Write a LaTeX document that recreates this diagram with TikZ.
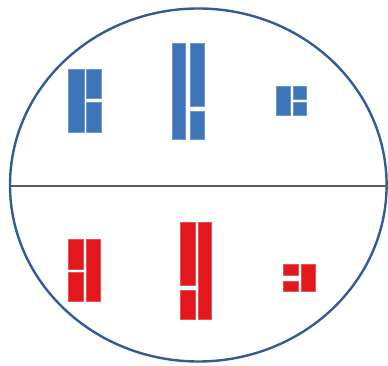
\documentclass[tikz,border=0pt]{standalone}
\usepackage{xcolor}
\usepackage{tikz}
\usetikzlibrary{positioning, calc}

\definecolor{barblue}{RGB}{62,116,184}
\definecolor{barred}{RGB}{226,24,28}
\definecolor{rimblue}{RGB}{50,92,150}

\begin{document}
\begin{tikzpicture}[
    x=1pt, y=-1pt,
    rim/.style={draw=rimblue, line width=2.4pt},
    divider/.style={draw=black!65, line width=2pt},
    bluebar/.style={fill=barblue, draw=barblue!75!white, line width=0.6pt},
    redbar/.style={fill=barred, draw=barred!75!white, line width=0.6pt}
]
\useasboundingbox (0,0) rectangle (388,366);

% Omtrek en scheidslijn
\draw[rim] (198.3,185) ellipse [x radius=188.3, y radius=176.5];
\draw[divider] (10,185.7) -- (388,185.7);

% Blauwe staven (boven)
\path[bluebar] (68.3,69) rectangle (84,132);
\path[bluebar] (86.7,69) rectangle (101.7,98);
\path[bluebar] (86.7,102.7) rectangle (101.7,132);

\path[bluebar] (172.3,43.3) rectangle (185.7,139);
\path[bluebar] (190,43.3) rectangle (204.3,106.7);
\path[bluebar] (190,111) rectangle (204.3,139);

\path[bluebar] (276,86) rectangle (290,115);
\path[bluebar] (293.3,86) rectangle (306,99.3);
\path[bluebar] (293.3,102) rectangle (306,115);

% Rode staven (onder)
\path[redbar] (68.3,239.3) rectangle (83.3,269.3);
\path[redbar] (68.3,272.7) rectangle (83.3,301.7);
\path[redbar] (86.7,239.3) rectangle (100,301.7);

\path[redbar] (180.7,222.3) rectangle (195,285.7);
\path[redbar] (180.7,290) rectangle (195,319);
\path[redbar] (198.3,222.3) rectangle (211.7,319);

\path[redbar] (283.3,264.3) rectangle (298.3,275.7);
\path[redbar] (283.3,281) rectangle (298.3,291.7);
\path[redbar] (301.7,264.3) rectangle (315,291.7);

\end{tikzpicture}
\end{document}
